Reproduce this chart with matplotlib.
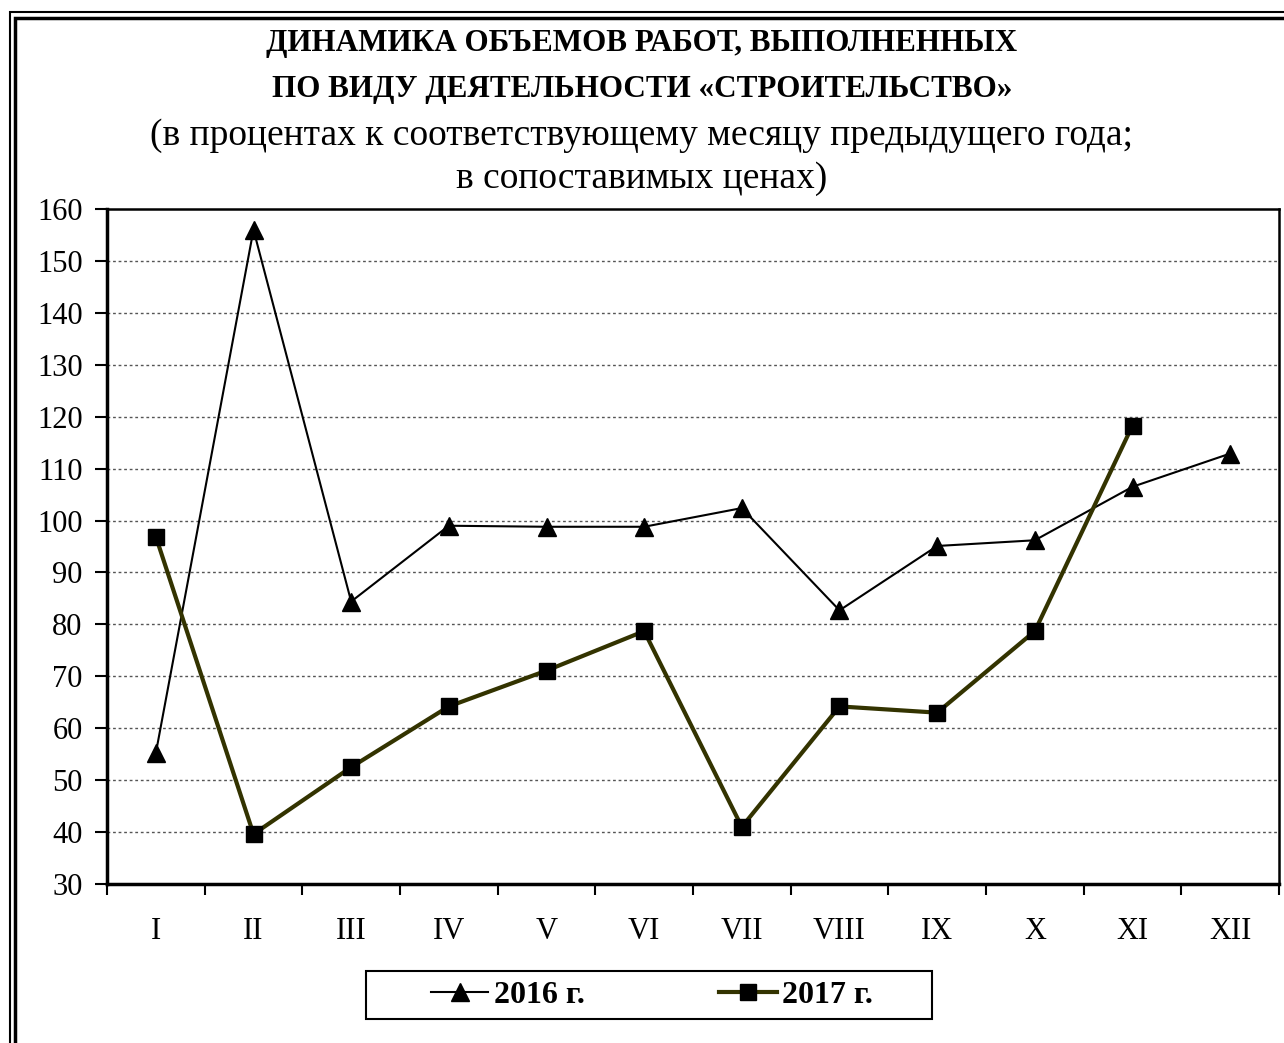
import matplotlib
matplotlib.use("Agg")
import matplotlib.pyplot as plt
from matplotlib.patches import Rectangle

plt.rcParams['font.family'] = ['Liberation Serif', 'DejaVu Serif']

months = ['I', 'II', 'III', 'IV', 'V', 'VI', 'VII', 'VIII', 'IX', 'X', 'XI', 'XII']
vals_2016 = [55.2, 156.0, 84.4, 99.0, 98.8, 98.8, 102.4, 82.7, 95.1, 96.2, 106.5, 112.9]
vals_2017 = [96.9, 39.6, 52.5, 64.2, 71.1, 78.7, 41.0, 64.2, 63.0, 78.7, 118.3]

title_lines = ['ДИНАМИКА ОБЪЕМОВ РАБОТ, ВЫПОЛНЕННЫХ',
               'ПО ВИДУ ДЕЯТЕЛЬНОСТИ «СТРОИТЕЛЬСТВО»']
subtitle_lines = ['(в процентах к соответствующему месяцу предыдущего года;',
                  'в сопоставимых ценах)']

W, H = 1284, 1043
fig = plt.figure(figsize=(W / 100, H / 100), dpi=100)
ax = fig.add_axes([107 / W, 1 - 884 / H, (1279 - 107) / W, (884 - 209) / H])

x16 = [i + 0.5 for i in range(len(vals_2016))]
x17 = [i + 0.5 for i in range(len(vals_2017))]
ax.plot(x16, vals_2016, color='black', lw=1.5, marker='^', ms=13, mfc='black', mec='black',
        label='2016 г.', zorder=3)
ax.plot(x17, vals_2017, color='#333300', lw=3, marker='s', ms=12, mfc='black', mec='black',
        label='2017 г.', zorder=4)

ax.set_xlim(0, 12)
ax.set_ylim(30, 160)
ax.set_yticks(range(30, 161, 10))
ax.set_xticks(range(0, 13))
ax.set_xticklabels([])
ax.set_xticks(x16, minor=True)
ax.set_xticklabels(months, minor=True)
ax.tick_params(axis='x', which='minor', length=0, pad=24, labelsize=22)
ax.tick_params(axis='x', which='major', direction='out', length=8, width=1.5)
ax.tick_params(axis='y', direction='out', length=8.6, width=1.5, labelsize=22, pad=9)
for y in range(40, 160, 10):
    ax.axhline(y, color='#555555', lw=1, ls=(0, (2, 2)), zorder=1)
for s in ax.spines.values():
    s.set_linewidth(1.8)
ax.spines['left'].set_linewidth(2.5)
ax.spines['bottom'].set_linewidth(2.5)

# titles, placed line by line (baselines in pixels from top)
for line, yb in zip(title_lines, [51, 97]):
    fig.text(0.5, 1 - yb / H, line, ha='center', va='baseline', fontsize=22.4,
             fontweight='bold')
for line, yb in zip(subtitle_lines, [145, 188]):
    fig.text(0.5, 1 - yb / H, line, ha='center', va='baseline', fontsize=27)

leg = fig.legend(loc='center', bbox_to_anchor=(652 / W, 1 - 995 / H), ncol=2,
                 frameon=False, prop={'weight': 'bold', 'size': 23},
                 columnspacing=4.2, handlelength=1.8, handletextpad=0.18,
                 borderpad=0.2)
fig.patches.append(Rectangle((366 / W, 1 - 1019 / H), (932 - 366) / W, 48 / H,
                             transform=fig.transFigure, fill=False, lw=1.5, ec='black'))

# double border frame (cropped at right and bottom in the reference)
fig.patches.append(Rectangle((10 / W, -0.05), 1.1, 1 - 12 / H + 0.05, transform=fig.transFigure,
                             fill=False, lw=1.5, ec='black'))
fig.patches.append(Rectangle((15 / W, -0.05), 1.1, 1 - 18 / H + 0.05, transform=fig.transFigure,
                             fill=False, lw=2.5, ec='black'))

fig.savefig('out.png', dpi=100)
